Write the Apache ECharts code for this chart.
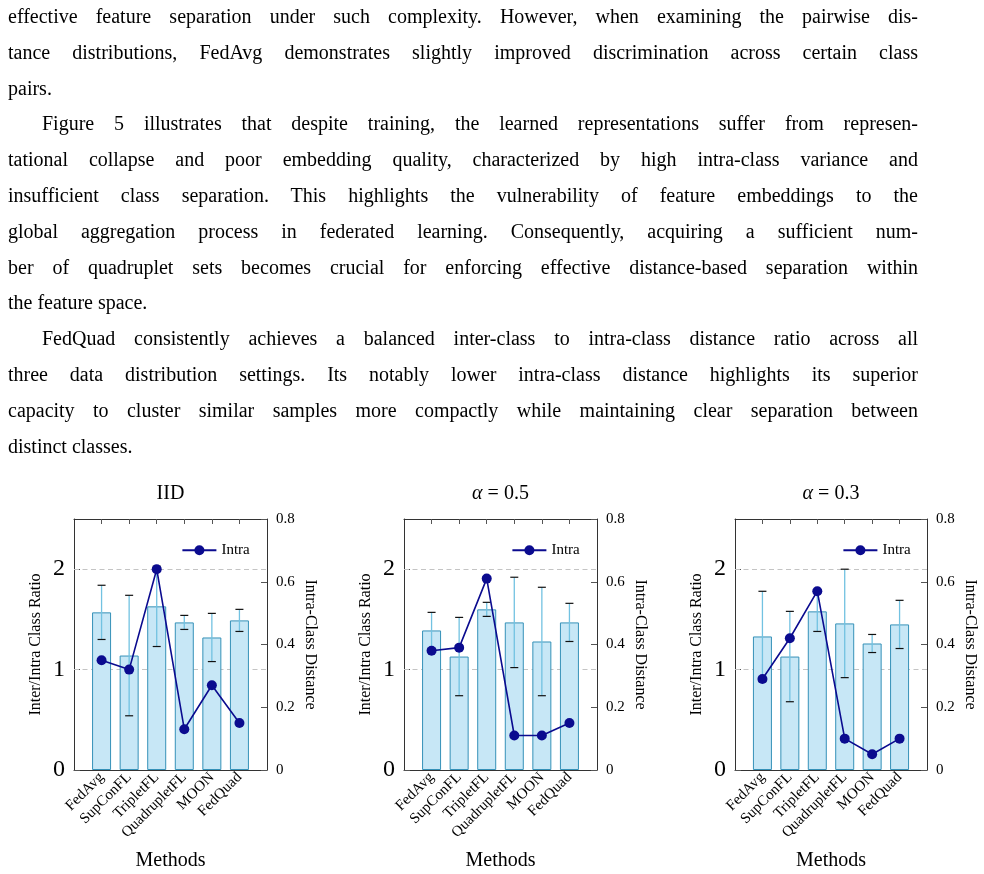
<!DOCTYPE html>
<html>
<head>
<meta charset="utf-8">
<script src="https://cdn.jsdelivr.net/npm/echarts/dist/echarts.min.js"></script>
<style>
html,body{margin:0;padding:0;background:#fff;}
#chart{position:absolute;left:0;top:0;width:984px;height:874px;}
#text{position:absolute;left:8px;top:-1px;width:910px;font-family:'Liberation Serif','Times New Roman',serif;font-size:20px;line-height:35.8px;color:#000;z-index:2;}
#text div{white-space:nowrap;}
.j{text-align:justify;text-align-last:justify;}
.l{text-align:left;}
.ind{text-indent:34px;}
</style>
</head>
<body>
<div id="chart"></div>
<div id="text"></div>
<script>
// ---------- data ----------
const methods = ['FedAvg', 'SupConFL', 'TripletFL', 'QuadrupletFL', 'MOON', 'FedQuad'];
const panelTitles = ['IID', '{a|α} = 0.5', '{a|α} = 0.3'];

const ratioIID = [1.57, 1.14, 1.63, 1.47, 1.32, 1.49];
const stdIID   = [0.27, 0.60, 0.40, 0.07, 0.24, 0.11];
const intraIID = [0.35, 0.32, 0.64, 0.13, 0.27, 0.15];

const ratioA05 = [1.39, 1.13, 1.60, 1.47, 1.28, 1.47];
const stdA05   = [0.18, 0.39, 0.07, 0.45, 0.54, 0.19];
const intraA05 = [0.38, 0.39, 0.61, 0.11, 0.11, 0.15];

const ratioA03 = [1.33, 1.13, 1.58, 1.46, 1.26, 1.45];
const stdA03   = [0.45, 0.45, 0.20, 0.54, 0.09, 0.24];
const intraA03 = [0.29, 0.42, 0.57, 0.10, 0.05, 0.10];

const leftTicks = [0, 1, 2];
const gridValues = [1, 2];
const rightTicks = [0, 0.2, 0.4, 0.6, 0.8];

const textLines = [
  ['effective feature separation under such complexity. However, when examining the pairwise dis-', 'j'],
  ['tance distributions, FedAvg demonstrates slightly improved discrimination across certain class', 'j'],
  ['pairs.', 'l'],
  ['Figure 5 illustrates that despite training, the learned representations suffer from represen-', 'j ind'],
  ['tational collapse and poor embedding quality, characterized by high intra-class variance and', 'j'],
  ['insufficient class separation. This highlights the vulnerability of feature embeddings to the', 'j'],
  ['global aggregation process in federated learning. Consequently, acquiring a sufficient num-', 'j'],
  ['ber of quadruplet sets becomes crucial for enforcing effective distance-based separation within', 'j'],
  ['the feature space.', 'l'],
  ['FedQuad consistently achieves a balanced inter-class to intra-class distance ratio across all', 'j ind'],
  ['three data distribution settings. Its notably lower intra-class distance highlights its superior', 'j'],
  ['capacity to cluster similar samples more compactly while maintaining clear separation between', 'j'],
  ['distinct classes.', 'l']
];

// ---------- text ----------
const tEl = document.getElementById('text');
textLines.forEach(([t, c]) => {
  const d = document.createElement('div');
  d.className = c;
  d.textContent = t;
  tEl.appendChild(d);
});

// ---------- chart ----------
const FONT = '"Liberation Serif", "Times New Roman", serif';
const panels = [
  {ratio: ratioIID, std: stdIID, intra: intraIID},
  {ratio: ratioA05, std: stdA05, intra: intraA05},
  {ratio: ratioA03, std: stdA03, intra: intraA03}
];
const gridLefts = [74, 404, 735];
const gridWidths = [193, 193, 192];
const gridTop = 519, gridHeight = 251;
const padded = [' '].concat(methods, ['  ']);

const BAR_FILL = '#c7e7f6', BAR_EDGE = '#3591b8', ERR_LINE = '#72c2e1', NAVY = '#0b0b8f', AXIS = '#333';

const option = {
  animation: false,
  backgroundColor: '#fff',
  grid: [], xAxis: [], yAxis: [], series: [], legend: [], graphic: []
};

panels.forEach((p, g) => {
  option.grid.push({left: gridLefts[g], top: gridTop, width: gridWidths[g], height: gridHeight,
    containLabel: false, outerBoundsMode: 'none'});
  option.xAxis.push({
    gridIndex: g, type: 'category', data: padded, boundaryGap: false, position: 'bottom',
    axisLine: {show: true, onZero: false, lineStyle: {color: AXIS, width: 1}},
    axisTick: {show: false},
    axisLabel: {interval: 0, rotate: 45, fontSize: 15, fontFamily: FONT, color: '#000', margin: 5},
    splitLine: {show: false},
    name: 'Methods', nameLocation: 'middle', nameGap: 81,
    nameTextStyle: {fontSize: 20, fontFamily: FONT, color: '#000'}
  });
  option.xAxis.push({
    gridIndex: g, type: 'category', data: padded, boundaryGap: false, position: 'top',
    axisLine: {show: true, onZero: false, lineStyle: {color: AXIS, width: 1}},
    axisTick: {show: true, inside: true, length: 5, interval: (i) => i > 0 && i < padded.length - 1,
      lineStyle: {color: '#555'}},
    axisLabel: {show: false}, splitLine: {show: false}
  });
  option.yAxis.push({
    gridIndex: g, type: 'value', position: 'left', min: 0, max: 2.5, interval: 1,
    axisLine: {show: true, onZero: false, lineStyle: {color: AXIS, width: 1}},
    axisTick: {show: true, inside: true, length: 6, lineStyle: {color: '#555'}},
    axisLabel: {fontSize: 24, fontFamily: FONT, color: '#000', margin: 9, showMaxLabel: false,
      formatter: (v) => leftTicks.indexOf(v) >= 0 ? String(v) : ''},
    splitLine: {show: false},
    name: 'Inter/Intra Class Ratio', nameLocation: 'middle', nameGap: 30,
    nameTextStyle: {fontSize: 16, fontFamily: FONT, color: '#000'}
  });
  option.yAxis.push({
    gridIndex: g, type: 'value', position: 'right', min: 0, max: 0.8, interval: 0.2,
    axisLine: {show: true, onZero: false, lineStyle: {color: AXIS, width: 1}},
    axisTick: {show: true, inside: true, length: 6, lineStyle: {color: '#555'}},
    axisLabel: {fontSize: 15, fontFamily: FONT, color: '#000', margin: 9,
      formatter: (v) => { const r = rightTicks.find(t => Math.abs(t - v) < 1e-9); return r === undefined ? '' : String(r); }},
    splitLine: {show: false},
    name: 'Intra-Class Distance', nameLocation: 'middle', nameGap: 35, nameRotate: -90,
    nameTextStyle: {fontSize: 16, fontFamily: FONT, color: '#000'}
  });

  const xb = 2 * g, yl = 2 * g, yr = 2 * g + 1;
  option.series.push({
    type: 'bar', name: 'Ratio', xAxisIndex: xb, yAxisIndex: yl, barWidth: 19,
    data: [null].concat(p.ratio, [null]),
    itemStyle: {color: BAR_FILL, borderColor: BAR_EDGE, borderWidth: 1},
    z: 2,
    markLine: {
      silent: true, symbol: 'none', z: 1, animation: false,
      label: {show: false},
      lineStyle: {color: '#c4c4c4', type: [5, 3.5], width: 1},
      emphasis: {disabled: true},
      data: gridValues.map(v => ({yAxis: v}))
    }
  });
  option.series.push({
    type: 'custom', name: 'err', xAxisIndex: xb, yAxisIndex: yl, z: 3,
    encode: {x: 0, y: [1, 2]},
    data: p.ratio.map((v, i) => [i + 1, v - p.std[i], v + p.std[i]]),
    renderItem: (params, api) => {
      const x = api.value(0), lo = api.value(1), hi = api.value(2);
      const a = api.coord([x, hi]), b = api.coord([x, lo]);
      const c = 4;
      return {type: 'group', children: [
        {type: 'line', shape: {x1: a[0], y1: a[1], x2: b[0], y2: b[1]}, style: {stroke: ERR_LINE, lineWidth: 1.3}},
        {type: 'line', shape: {x1: a[0] - c, y1: a[1], x2: a[0] + c, y2: a[1]}, style: {stroke: '#111', lineWidth: 1.2}},
        {type: 'line', shape: {x1: b[0] - c, y1: b[1], x2: b[0] + c, y2: b[1]}, style: {stroke: '#111', lineWidth: 1.2}}
      ]};
    }
  });
  option.series.push({
    type: 'line', name: 'Intra', xAxisIndex: xb, yAxisIndex: yr, z: 5,
    data: [null].concat(p.intra, [null]),
    symbol: 'circle', symbolSize: 10, showSymbol: true,
    lineStyle: {color: NAVY, width: 1.6}, itemStyle: {color: NAVY}
  });
  option.legend.push({
    data: ['Intra'], left: gridLefts[g] + 107.4, top: 542.75, padding: 0,
    itemWidth: 34, itemHeight: 12.5, selectedMode: false, orient: 'horizontal',
    textStyle: {fontSize: 15, fontFamily: FONT, color: '#000'}
  });
  option.graphic.push({
    type: 'text', x: gridLefts[g] + gridWidths[g] / 2, y: 494,
    style: {text: panelTitles[g], fontSize: 20, fontFamily: FONT, fill: '#000',
      align: 'center', verticalAlign: 'middle', textAlign: 'center', textVerticalAlign: 'middle',
      rich: {a: {fontStyle: 'italic', fontSize: 20, fontFamily: FONT}}}
  });
});

const chart = echarts.init(document.getElementById('chart'), null, {renderer: 'canvas'});
chart.setOption(option);
</script>
</body>
</html>
